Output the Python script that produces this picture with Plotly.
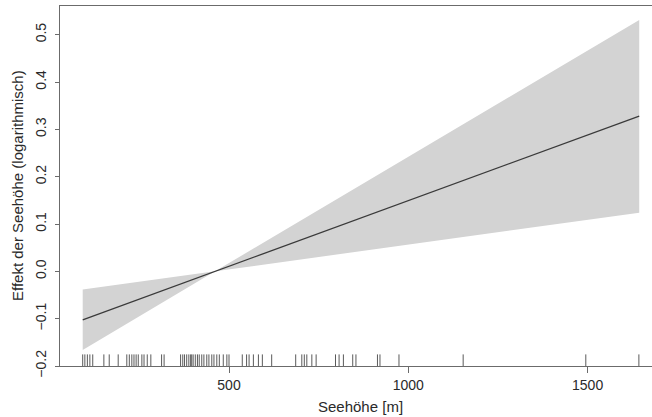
import plotly.graph_objects as go

# Smooth effect (linear) of altitude: grid, fit and pointwise confidence band
x_grid = [92, 461, 1644]
fit = [-0.1025, 0.0, 0.328]
upper = [-0.0385, 0.0, 0.531]
lower = [-0.166, 0.0, 0.124]

# Observed altitudes (rug)
rug_x = [92, 98, 105, 112, 120, 151, 166, 191, 215, 222, 229, 235, 241, 247,
         257, 263, 272, 282, 312, 319, 365, 371, 376, 382, 388, 393, 396, 400,
         406, 412, 417, 424, 430, 438, 444, 452, 458, 466, 473, 484, 494, 500,
         537, 549, 556, 568, 582, 593, 619, 686, 703, 710, 717, 731, 743, 797,
         807, 819, 845, 854, 914, 921, 974, 1153, 1495, 1643]

x_ticks = [500, 1000, 1500]
x_tick_labels = ["500", "1000", "1500"]
y_ticks = [-0.2, -0.1, 0.0, 0.1, 0.2, 0.3, 0.4, 0.5]
y_tick_labels = ["\u22120.2", "\u22120.1", "0.0", "0.1", "0.2", "0.3", "0.4", "0.5"]

x_title = "Seehöhe [m]"
y_title = "Effekt der Seehöhe (logarithmisch)"

FONT = "Liberation Sans, Arial, Helvetica, sans-serif"
AXIS_COL = "#6b6b6b"
TEXT_COL = "#2a2a2a"

fig = go.Figure()

# confidence band polygon
fig.add_trace(go.Scatter(
    x=x_grid + x_grid[::-1],
    y=upper + lower[::-1],
    fill="toself", fillcolor="#d3d3d3",
    line=dict(width=0), mode="lines", hoverinfo="skip", showlegend=False))

# fitted line
fig.add_trace(go.Scatter(
    x=x_grid, y=fit, mode="lines",
    line=dict(color="#3a3a3a", width=1.3), showlegend=False))

# rug
rx, ry = [], []
for v in rug_x:
    rx += [v, v, None]
    ry += [-0.2, -0.1755, None]
fig.add_trace(go.Scatter(
    x=rx, y=ry, mode="lines",
    line=dict(color="#5a5a5a", width=1), hoverinfo="skip", showlegend=False))

fig.update_layout(
    width=652, height=417,
    margin=dict(l=60, r=0, t=6, b=51),
    plot_bgcolor="white", paper_bgcolor="white",
    font=dict(family=FONT, size=14, color=TEXT_COL),
    xaxis=dict(range=[28.7, 1679.6], showgrid=False, zeroline=False,
               showline=True, linecolor=AXIS_COL, linewidth=1, mirror=True,
               ticks="outside", ticklen=6, tickcolor=AXIS_COL, tickwidth=1,
               tickvals=x_ticks, ticktext=x_tick_labels,
               tickfont=dict(size=14, family=FONT, color=TEXT_COL)),
    yaxis=dict(range=[-0.2, 0.5606], showgrid=False, zeroline=False,
               showline=True, linecolor=AXIS_COL, linewidth=1, mirror=False,
               ticks="outside", ticklen=4, tickcolor=AXIS_COL, tickwidth=1,
               tickvals=y_ticks, ticktext=y_tick_labels, tickangle=-90,
               ticklabelstandoff=3,
               tickfont=dict(size=14, family=FONT, color=TEXT_COL)),
    annotations=[
        dict(text=x_title, xref="paper", yref="paper", x=0.508, y=-0.113,
             xanchor="center", yanchor="middle", showarrow=False,
             font=dict(size=15, family=FONT, color=TEXT_COL)),
        dict(text=y_title, xref="paper", yref="paper", x=-0.0726, y=0.5,
             xanchor="center", yanchor="middle", showarrow=False, textangle=-90,
             font=dict(size=15, family=FONT, color=TEXT_COL)),
    ],
)

fig.write_html("out.html",
               config={"displayModeBar": False, "staticPlot": True},
               post_script="document.body.style.margin='0';document.body.style.overflow='hidden';")
